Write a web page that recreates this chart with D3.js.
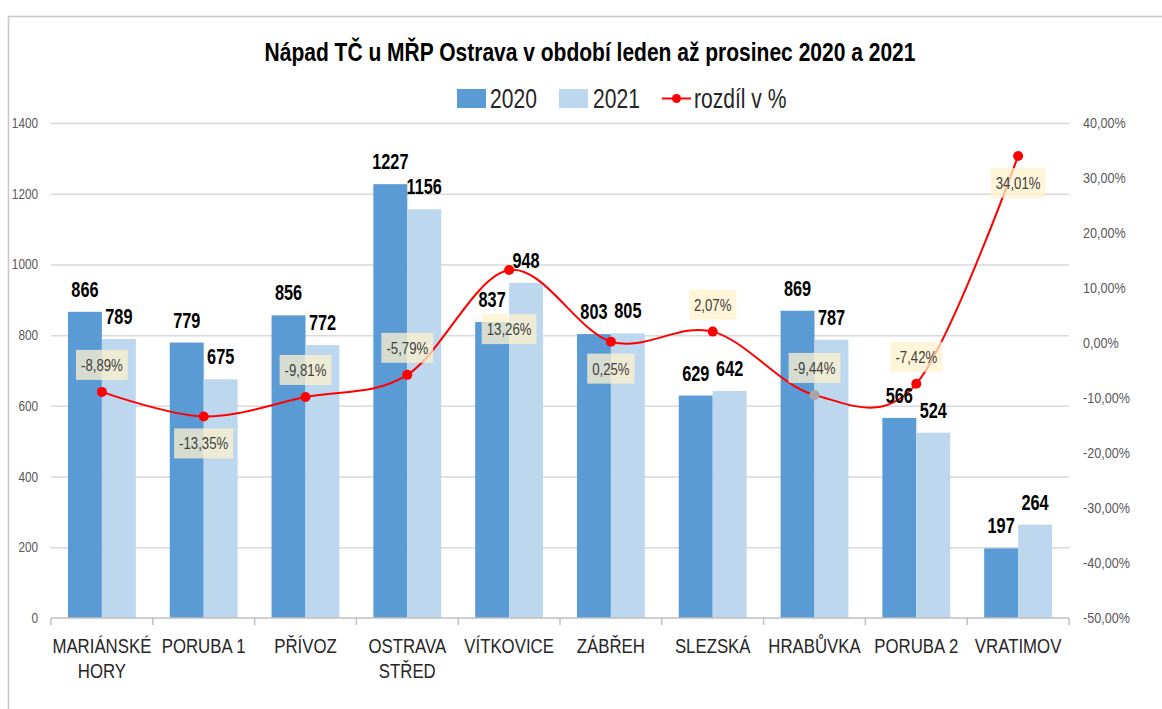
<!DOCTYPE html>
<html>
<head>
<meta charset="utf-8">
<script src="https://cdn.jsdelivr.net/npm/d3@7"></script>
<style>
  body { margin: 0; background: #fff; }
  svg { display: block; font-family: "Liberation Sans", Arial, sans-serif; }
</style>
</head>
<body>
<div id="container"></div>
<script>
const categories = ['MARIÁNSKÉ\nHORY', 'PORUBA 1', 'PŘÍVOZ', 'OSTRAVA\nSTŘED', 'VÍTKOVICE',
                    'ZÁBŘEH', 'SLEZSKÁ', 'HRABŮVKA', 'PORUBA 2', 'VRATIMOV'];
const values2020 = [866, 779, 856, 1227, 837, 803, 629, 869, 566, 197];
const values2021 = [789, 675, 772, 1156, 948, 805, 642, 787, 524, 264];
const diffPct = [-8.89, -13.35, -9.81, -5.79, 13.26, 0.25, 2.07, -9.44, -7.42, 34.01];
const leftTicks = [0, 200, 400, 600, 800, 1000, 1200, 1400];
const rightTicks = [-50, -40, -30, -20, -10, 0, 10, 20, 30, 40];
const seriesNames = ['2020', '2021'];
const grayMarkerCat = 'HRABŮVKA';

const w = 1162;
const h = 709;
const p = {top: 123, right: 93, bottom: 91, left: 51};
const colors = {'2020': '#5b9bd5', '2021': '#bdd7ee'};

// squeeze text horizontally (no narrow font installed)
function condense(sel, k) {
  sel.each(function() {
    const len = this.getComputedTextLength();
    d3.select(this)
      .attr('textLength', len * k)
      .attr('lengthAdjust', 'spacingAndGlyphs');
  });
}

const svg = d3.select('#container')
  .append('svg')
  .attr('width', w)
  .attr('height', h)
  .attr('viewBox', [0, 0, w, h]);

// chart frame
svg.append('rect')
  .attr('x', 8.5).attr('y', 16.5)
  .attr('width', 1200).attr('height', 800)
  .attr('fill', 'none')
  .attr('stroke', '#c8c8c8')
  .attr('stroke-width', 1.5);

const x = d3.scaleBand()
  .domain(categories)
  .range([p.left, w - p.right]);
const x1 = d3.scaleBand()
  .domain(seriesNames)
  .range([0, x.bandwidth()])
  .paddingOuter(0.5);
const y = d3.scaleLinear()
  .domain([0, 1400])
  .range([h - p.bottom, p.top]);
const y2 = d3.scaleLinear()
  .domain([-50, 40])
  .range([h - p.bottom, p.top]);

// gridlines
svg.append('g')
  .attr('transform', 'translate(' + p.left + ',0)')
  .call(d3.axisLeft(y).tickValues(leftTicks.slice(1)).tickSize(-(w - p.left - p.right)).tickFormat(''))
  .call(g => g.select('.domain').remove())
  .call(g => g.selectAll('line').attr('stroke', '#d9d9d9').attr('stroke-width', 1.5));

// left axis
svg.append('g')
  .attr('transform', 'translate(' + p.left + ',0)')
  .call(d3.axisLeft(y).tickValues(leftTicks).tickSize(0).tickPadding(13).tickFormat(d3.format('d')))
  .call(g => g.select('.domain').remove())
  .call(g => g.selectAll('text')
    .attr('font-family', '"Liberation Sans", sans-serif')
    .attr('font-size', 14).attr('fill', '#595959')
    .call(condense, 0.84));

// right axis
svg.append('g')
  .attr('transform', 'translate(' + (w - p.right) + ',0)')
  .call(d3.axisRight(y2).tickValues(rightTicks).tickSize(0).tickPadding(14)
    .tickFormat(d => d.toFixed(2).replace('.', ',') + '%'))
  .call(g => g.select('.domain').remove())
  .call(g => g.selectAll('text')
    .attr('font-family', '"Liberation Sans", sans-serif')
    .attr('font-size', 14).attr('fill', '#595959')
    .call(condense, 0.9));

// bars
const rows = categories.map((c, i) => ({cat: c, vals: [values2020[i], values2021[i]]}));
const groups = svg.append('g')
  .selectAll('g')
  .data(rows)
  .enter()
  .append('g')
  .attr('transform', d => 'translate(' + x(d.cat) + ',0)');

groups.selectAll('rect')
  .data(d => d.vals.map((v, j) => ({key: seriesNames[j], v: v})))
  .enter()
  .append('rect')
  .attr('x', d => x1(d.key))
  .attr('y', d => y(d.v))
  .attr('width', x1.bandwidth())
  .attr('height', d => y(0) - y(d.v))
  .attr('fill', d => colors[d.key]);

// x axis line and category separators
const xAxis = svg.append('g');
xAxis.append('line')
  .attr('x1', p.left).attr('x2', w - p.right)
  .attr('y1', y(0)).attr('y2', y(0))
  .attr('stroke', '#bfbfbf').attr('stroke-width', 1.5);
xAxis.selectAll('.sep')
  .data(d3.range(categories.length + 1))
  .enter()
  .append('line')
  .attr('class', 'sep')
  .attr('x1', i => p.left + i * x.step())
  .attr('x2', i => p.left + i * x.step())
  .attr('y1', y(0)).attr('y2', y(0) + 7)
  .attr('stroke', '#bfbfbf').attr('stroke-width', 1.5);

const catText = xAxis.selectAll('.cat')
  .data(categories)
  .enter()
  .append('text')
  .attr('class', 'cat')
  .attr('text-anchor', 'middle')
  .attr('font-size', 20)
  .attr('fill', '#262626')
  .attr('y', y(0) + 35);
catText.selectAll('tspan')
  .data(d => d.split('\n').map(t => ({t: t, c: d})))
  .enter()
  .append('tspan')
  .attr('x', d => x(d.c) + x.bandwidth() / 2)
  .attr('dy', (d, i) => i === 0 ? 0 : 25)
  .text(d => d.t)
  .call(condense, 0.84);

// difference line
const pts = categories.map((c, i) => ({cat: c, v: diffPct[i], i: i}));
const cx = d => x(d.cat) + x.bandwidth() / 2;
const line = d3.line()
  .x(cx)
  .y(d => y2(d.v))
  .curve(d3.curveCardinal.tension(0));

svg.append('path')
  .datum(pts)
  .attr('d', line)
  .attr('fill', 'none')
  .attr('stroke', '#ff0000')
  .attr('stroke-width', 2);

svg.append('g')
  .selectAll('circle')
  .data(pts)
  .enter()
  .append('circle')
  .attr('cx', cx)
  .attr('cy', d => y2(d.v))
  .attr('r', 5)
  .attr('fill', d => d.cat === grayMarkerCat ? '#a6a6a6' : '#ff0000');

// value labels (laid out first so percent boxes can avoid them)
const valLayer = svg.append('g');
const valText = valLayer.selectAll('text')
  .data(rows.flatMap(r => r.vals.map((v, j) => ({cat: r.cat, key: seriesNames[j], v: v}))))
  .enter()
  .append('text')
  .attr('text-anchor', 'middle')
  .attr('x', d => x(d.cat) + x1(d.key) + x1.bandwidth() / 2)
  .attr('y', d => y(d.v) - 15)
  .attr('font-size', 22)
  .attr('font-weight', 'bold')
  .attr('fill', '#000')
  .text(d => d.v)
  .call(condense, 0.74);
const valBoxes = [];
valText.each(function() { valBoxes.push(this.getBBox()); });

// percent labels (semi-transparent boxes drawn over the line)
const pctLayer = svg.append('g');
valLayer.raise();
const boxH = 30, gap = 27;
pts.forEach(d => {
  const px = cx(d), py = y2(d.v);
  const g = pctLayer.append('g');
  const rect = g.append('rect')
    .attr('fill', '#fff2cc')
    .attr('fill-opacity', 0.75);
  const t = g.append('text')
    .attr('text-anchor', 'middle')
    .attr('dy', '0.36em')
    .attr('font-size', 16.5)
    .attr('fill', '#404040')
    .text(d.v.toFixed(2).replace('.', ',') + '%');
  const boxW = t.node().getComputedTextLength() * 0.8 + 10;
  t.call(condense, 0.8);
  const hits = by => valBoxes.some(b =>
    px - boxW / 2 < b.x + b.width && px + boxW / 2 > b.x &&
    by - boxH / 2 < b.y + b.height && by + boxH / 2 > b.y);
  const prev = pts[d.i - 1], next = pts[d.i + 1];
  const deepMin = prev && next && d.v < prev.v - 3 && d.v < next.v - 3;
  const tooHigh = py - gap - boxH / 2 < p.top;
  let ly = (deepMin || tooHigh) ? py + gap : py - gap;
  if (hits(ly)) {
    ly = py + gap;
    while (hits(ly)) ly += 4;
  }
  g.attr('transform', 'translate(' + px + ',' + ly + ')');
  rect.attr('x', -boxW / 2).attr('y', -boxH / 2)
    .attr('width', boxW).attr('height', boxH);
});

// title
svg.append('text')
  .attr('x', 590)
  .attr('y', 61)
  .attr('text-anchor', 'middle')
  .attr('font-size', 25)
  .attr('font-weight', 'bold')
  .attr('fill', '#000')
  .text('Nápad TČ u MŘP Ostrava v období leden až prosinec 2020 a 2021')
  .call(condense, 0.84);

// legend
const legend = svg.append('g').attr('font-size', 27).attr('fill', '#262626');
const legendBars = [{key: '2020', x: 457, tx: 490}, {key: '2021', x: 559, tx: 593}];
legendBars.forEach(l => {
  legend.append('rect')
    .attr('x', l.x).attr('y', 89)
    .attr('width', 29).attr('height', 19)
    .attr('fill', colors[l.key]);
  legend.append('text')
    .attr('x', l.tx).attr('y', 108)
    .text(l.key)
    .call(condense, 0.78);
});
legend.append('line')
  .attr('x1', 662).attr('x2', 691)
  .attr('y1', 98.5).attr('y2', 98.5)
  .attr('stroke', '#ff0000').attr('stroke-width', 2);
legend.append('circle')
  .attr('cx', 676.5).attr('cy', 98.5).attr('r', 4.5)
  .attr('fill', '#ff0000');
legend.append('text')
  .attr('x', 694).attr('y', 108)
  .text('rozdíl v %')
  .call(condense, 0.78);
</script>
</body>
</html>
